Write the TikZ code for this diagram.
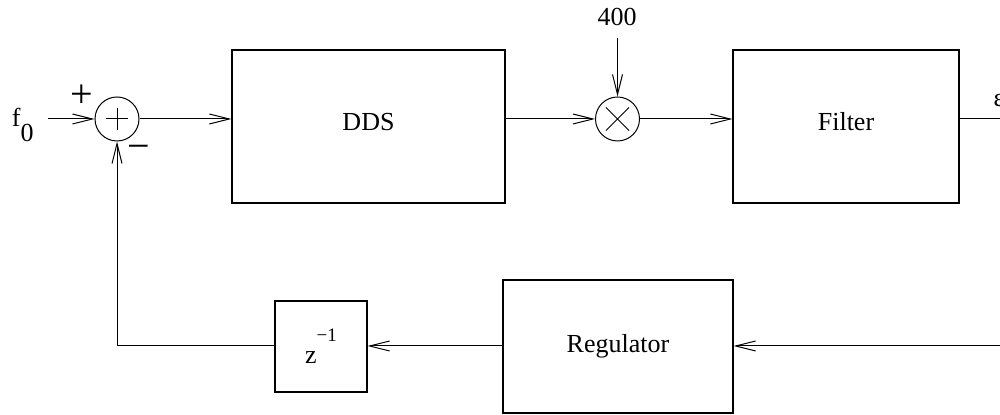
\documentclass[tikz,border=0pt]{standalone}
\usepackage{fontspec}
\setmainfont{Liberation Serif}
\usetikzlibrary{arrows.meta,positioning}

\begin{document}
\begin{tikzpicture}[x=0.5pt,y=-0.5pt,font=\fontsize{13}{15}\selectfont,line width=0.5pt,
 >={Straight Barb[length=10pt,width=5pt]},
 block/.style={draw,line width=0.6pt,inner sep=0pt},
 junction/.style={draw,circle,minimum size=22pt,inner sep=0pt},
 sumnode/.style={junction,path picture={\draw (path picture bounding box.center) ++(-5.6pt,0) -- ++(11.2pt,0)
   (path picture bounding box.center) ++(0,-5.6pt) -- ++(0,11.2pt);}},
 mixnode/.style={junction,path picture={\draw (path picture bounding box.center) ++(-5.8pt,-5.8pt) -- ++(11.6pt,11.6pt)
   (path picture bounding box.center) ++(-5.8pt,5.8pt) -- ++(11.6pt,-11.6pt);}},
 sign/.style={font=\fontsize{20}{20}\selectfont,inner sep=0pt}]
\useasboundingbox (0,0) rectangle (1000,415);
\node[anchor=base east,inner xsep=7pt,inner ysep=0pt] (fin) at (48,127) {f\raisebox{-7.5pt}{0}};
\node[sumnode] (sum) at (117,119) {};
\node[sign] (plus) at (82,96) {+};
\node[sign] (minus) at (139,152) {−};
\node[block,text depth=5pt,minimum width=136.5pt,minimum height=76.5pt] (dds) at (368.5,126.5) {DDS};
\node[mixnode] (mix) at (617.5,119) {};
\node[inner sep=0pt] (ref) at (617,17) {400};
\coordinate (reftop) at (617.5,38);
\node[block,text depth=5pt,minimum width=113pt,minimum height=76.5pt] (filter) at (846,126.5) {Filter};
\coordinate (out) at (1000,119);
\node[inner sep=0pt] (eps) at (999,101) {ε};
\coordinate (err) at (1000,346);
\node[block,minimum width=115pt,minimum height=66.5pt] (reg) at (618,346.5) {Regulator};
\node[block,minimum width=46pt,minimum height=45.5pt] (zinv) at (321,346.5) {z\raisebox{11pt}{\fontsize{9.5}{10}\selectfont −1}};
\draw[->] (fin.east |- sum) -- (sum.west);
\draw[->] (sum.east) -- (sum -| dds.west);
\draw[->] (dds.east |- mix) -- (mix.west);
\draw[->] (reftop) -- (mix.north);
\draw[->] (mix.east) -- (mix -| filter.west);
\draw (filter.east |- out) -- (out);
\draw[->] (err) -- (reg.east |- err);
\draw[->] (reg.west |- err) -- (zinv.east |- err);
\draw[->] (zinv.west |- err) -| (sum.south);
\end{tikzpicture}
\end{document}
